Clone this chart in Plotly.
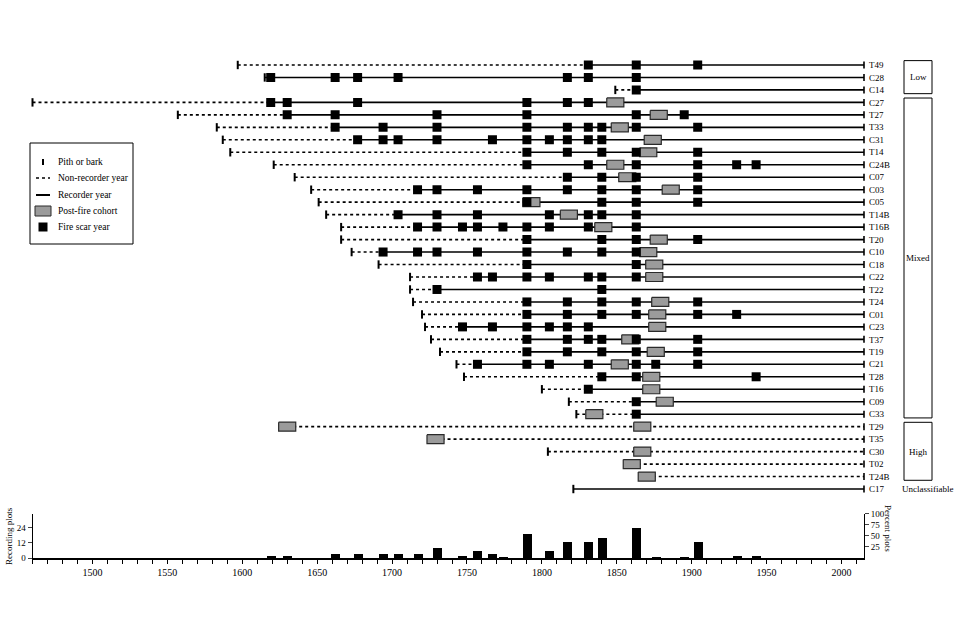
import plotly.graph_objects as go

# ---------------- data ----------------
rows = ["T49", "C28", "C14", "C27", "T27", "T33", "C31", "T14", "C24B", "C07",
        "C03", "C05", "T14B", "T16B", "T20", "C10", "C18", "C22", "T22", "T24",
        "C01", "C23", "T37", "T19", "C21", "T28", "T16", "C09", "C33", "T29",
        "T35", "C30", "T02", "T24B", "C17"]

pith_year = [1597, 1615, 1849, 1460, 1557, 1583, 1587, 1592, 1621, 1635,
             1646, 1651, 1656, 1666, 1666, 1673, 1691, 1712, 1712, 1714,
             1720, 1722, 1726, 1732, 1743, 1748, 1800, 1818, 1823, None,
             None, 1804, None, None, 1821]

recorder_start = [1831, 1619, 1863, 1619, 1630, 1662, 1677, 1790, 1790, 1817,
                  1717, 1790, 1704, 1717, 1790, 1694, 1790, 1757, 1730, 1790,
                  1790, 1747, 1790, 1790, 1757, 1840, 1831, 1863, 1863, None,
                  None, None, None, None, 1821]

fire_scars = [
    [1831, 1863, 1904],
    [1619, 1662, 1677, 1704, 1817, 1831, 1863],
    [1863],
    [1619, 1630, 1677, 1790, 1817, 1831],
    [1630, 1662, 1730, 1790, 1863, 1895],
    [1662, 1694, 1730, 1790, 1817, 1831, 1840, 1863, 1904],
    [1677, 1694, 1704, 1730, 1767, 1790, 1805, 1817, 1831, 1840],
    [1790, 1817, 1840, 1863, 1904],
    [1790, 1831, 1863, 1904, 1930, 1943],
    [1817, 1840, 1863, 1904],
    [1717, 1730, 1757, 1790, 1817, 1840, 1863, 1904],
    [1790, 1840, 1863, 1904],
    [1704, 1730, 1757, 1805, 1831, 1840, 1863],
    [1717, 1730, 1747, 1757, 1774, 1790, 1805, 1831, 1863],
    [1790, 1840, 1863, 1904],
    [1694, 1717, 1730, 1757, 1790, 1817, 1840, 1863],
    [1790, 1863],
    [1757, 1767, 1790, 1805, 1831, 1840, 1863],
    [1730, 1840],
    [1790, 1817, 1840, 1863, 1904],
    [1790, 1817, 1840, 1863, 1904, 1930],
    [1747, 1767, 1790, 1805, 1817, 1831],
    [1790, 1817, 1831, 1840, 1863, 1904],
    [1790, 1817, 1840, 1863, 1904],
    [1757, 1790, 1805, 1831, 1863, 1876, 1904],
    [1840, 1863, 1943],
    [1831],
    [1863],
    [1863],
    [], [], [], [], [], [],
]

cohorts = [
    [], [], [], [1849], [1878], [1852], [1874], [1871], [1849], [1857],
    [1886], [1793], [1818], [1841], [1878], [1871], [1875], [1875], [], [1879],
    [1877], [1877], [1859], [1876], [1852], [1873], [1873], [1882], [1835], [1630, 1867],
    [1729], [1867], [1860], [1870], [],
]

sample_year = 2015

hist_years = [1619, 1630, 1662, 1677, 1694, 1704, 1717, 1730, 1747, 1757, 1767, 1774,
              1790, 1805, 1817, 1831, 1840, 1863, 1876, 1895, 1904, 1930, 1943]
hist_counts = [2, 2, 3, 3, 3, 3, 3, 8, 2, 6, 3, 1,
               19, 6, 13, 13, 16, 24, 1, 1, 13, 2, 2]

groups = [("Low", 0, 2), ("Mixed", 3, 28), ("High", 29, 33)]
unclassified_row = 34

x_ticks = list(range(1460, 2011, 10))
x_labels = [str(v) if (v % 50 == 0 and v >= 1500) else "" for v in x_ticks]

legend_labels = ["Pith or bark", "Non-recorder year", "Recorder year",
                 "Post-fire cohort", "Fire scar year"]

# ---------------- figure ----------------
FONT = "Liberation Serif"
W, H = 960, 640


def wx(x):  # window pixel x -> paper
    return x / W


def wy(y):  # window pixel y -> paper
    return 1 - y / H


fig = go.Figure()

dot_x, dot_y, sol_x, sol_y = [], [], [], []
pith_x, pith_y = [], []
for i in range(len(rows)):
    start = pith_year[i] if pith_year[i] is not None else cohorts[i][0]
    rs = recorder_start[i]
    if rs is None:
        dot_x += [start, sample_year, None]; dot_y += [i, i, None]
    else:
        if start < rs:
            dot_x += [start, rs, None]; dot_y += [i, i, None]
        sol_x += [rs, sample_year, None]; sol_y += [i, i, None]
    if pith_year[i] is not None:
        pith_x.append(pith_year[i]); pith_y.append(i)

fig.add_trace(go.Scatter(x=dot_x, y=dot_y, mode="lines", showlegend=False,
                         line=dict(color="black", width=1.6, dash="dot"), hoverinfo="skip"))
fig.add_trace(go.Scatter(x=sol_x, y=sol_y, mode="lines", showlegend=False,
                         line=dict(color="black", width=1.6), hoverinfo="skip"))
fig.add_trace(go.Scatter(x=pith_x, y=pith_y, mode="markers", showlegend=False, cliponaxis=False,
                         marker=dict(symbol="line-ns", size=6, line=dict(width=2, color="black"))))
fig.add_trace(go.Scatter(x=[sample_year] * len(rows), y=list(range(len(rows))), mode="markers",
                         showlegend=False, cliponaxis=False,
                         marker=dict(symbol="line-ns", size=5, line=dict(width=1.6, color="black"))))

hw, hh = 5.7, 0.36
for i, cl in enumerate(cohorts):
    for c in cl:
        fig.add_trace(go.Scatter(
            x=[c - hw, c + hw, c + hw, c - hw, c - hw],
            y=[i - hh, i - hh, i + hh, i + hh, i - hh],
            mode="lines", fill="toself", fillcolor="#9b9b9b",
            line=dict(color="#2a2a2a", width=1.2), showlegend=False, hoverinfo="skip"))

sx, sy = [], []
for i, sl in enumerate(fire_scars):
    for s in sl:
        sx.append(s); sy.append(i)
fig.add_trace(go.Scatter(x=sx, y=sy, mode="markers", showlegend=False,
                         marker=dict(symbol="square", size=9, color="black")))

# histogram
fig.add_trace(go.Bar(x=hist_years, y=hist_counts, width=6, marker=dict(color="black", line=dict(width=0)),
                     xaxis="x2", yaxis="y2", showlegend=False))
fig.add_trace(go.Scatter(x=[None], y=[None], xaxis="x2", yaxis="y3", showlegend=False))

XR = [1460, 2015]
XD = [wx(32.5), wx(864)]
fig.update_layout(
    width=W, height=H,
    margin=dict(l=0, r=0, t=0, b=0),
    paper_bgcolor="white", plot_bgcolor="white",
    font=dict(family=FONT, color="black", size=10),
    showlegend=False,
    xaxis=dict(domain=XD, range=XR, anchor="y", visible=False, automargin=False),
    yaxis=dict(domain=[wy(499), wy(55)], range=[34.8, -0.8], anchor="x", side="right",
               tickvals=list(range(len(rows))), ticktext=rows, showgrid=False, zeroline=False,
               showline=False, ticks="", tickfont=dict(size=9), ticklabelstandoff=4,
               automargin=False),
    xaxis2=dict(domain=XD, range=XR, anchor="y2", showline=True, linecolor="black", linewidth=1.5,
                ticks="outside", ticklen=4, tickcolor="black", tickwidth=1,
                tickvals=x_ticks, ticktext=x_labels, showgrid=False, zeroline=False,
                tickfont=dict(size=10), automargin=False),
    yaxis2=dict(domain=[wy(558), wy(513.8)], range=[0, 35], anchor="x2", side="left",
                showline=True, linecolor="black", linewidth=1, ticks="outside", ticklen=4,
                tickvals=[0, 12, 24], showgrid=False, zeroline=False, tickfont=dict(size=9),
                automargin=False),
    yaxis3=dict(range=[0, 100], overlaying="y2", anchor="x2", side="right",
                showline=True, linecolor="black", linewidth=1, ticks="outside", ticklen=4,
                tickvals=[25, 50, 75, 100], showgrid=False, zeroline=False, tickfont=dict(size=9),
                automargin=False),
    bargap=0,
)

# group boxes
for name, a, b in groups:
    fig.add_shape(type="rect", xref="paper", yref="y", x0=wx(904), x1=wx(932),
                  y0=a - 0.35, y1=b + 0.3, line=dict(color="black", width=1))
    fig.add_annotation(xref="paper", yref="y", x=wx(918), y=(a + b) / 2, text=name,
                       xanchor="center", yanchor="middle", showarrow=False, font=dict(size=9))
fig.add_annotation(xref="paper", yref="y", x=wx(927), y=unclassified_row, text="Unclassifiable",
                   xanchor="center", yanchor="middle", showarrow=False, font=dict(size=9))

fig.add_annotation(xref="paper", yref="paper", x=wx(9), y=wy(536), text="Recording plots",
                   xanchor="center", yanchor="middle", textangle=-90, showarrow=False, font=dict(size=9))
fig.add_annotation(xref="paper", yref="paper", x=wx(888), y=wy(528), text="Percent plots",
                   xanchor="center", yanchor="middle", textangle=90, showarrow=False, font=dict(size=9))

# manual legend (pixel layout)
fig.add_shape(type="rect", xref="paper", yref="paper", x0=wx(30), x1=wx(133), y0=wy(244), y1=wy(143),
              line=dict(color="black", width=1), fillcolor="white", layer="above")
item_y = [162, 178, 195, 211, 227]
fig.add_shape(type="line", xref="paper", yref="paper", x0=wx(43), x1=wx(43),
              y0=wy(item_y[0] + 3), y1=wy(item_y[0] - 3), line=dict(color="black", width=2), layer="above")
fig.add_shape(type="line", xref="paper", yref="paper", x0=wx(36), x1=wx(50),
              y0=wy(item_y[1]), y1=wy(item_y[1]), line=dict(color="black", width=1.6, dash="dot"), layer="above")
fig.add_shape(type="line", xref="paper", yref="paper", x0=wx(36), x1=wx(50),
              y0=wy(item_y[2]), y1=wy(item_y[2]), line=dict(color="black", width=2), layer="above")
fig.add_shape(type="rect", xref="paper", yref="paper", x0=wx(35), x1=wx(51),
              y0=wy(item_y[3] + 5), y1=wy(item_y[3] - 5), fillcolor="#9b9b9b",
              line=dict(color="#2a2a2a", width=1), layer="above")
fig.add_shape(type="rect", xref="paper", yref="paper", x0=wx(38.5), x1=wx(47.5),
              y0=wy(item_y[4] + 4.5), y1=wy(item_y[4] - 4.5), fillcolor="black",
              line=dict(color="black", width=0), layer="above")
for lab, yy in zip(legend_labels, item_y):
    fig.add_annotation(xref="paper", yref="paper", x=wx(56), y=wy(yy), text=lab, xanchor="left",
                       yanchor="middle", showarrow=False, font=dict(size=9.5))

# remove the default page margin so the 960x640 figure fills the window exactly
fig.write_html("out.html", config={"displayModeBar": False},
               post_script="document.body.style.margin='0';")
